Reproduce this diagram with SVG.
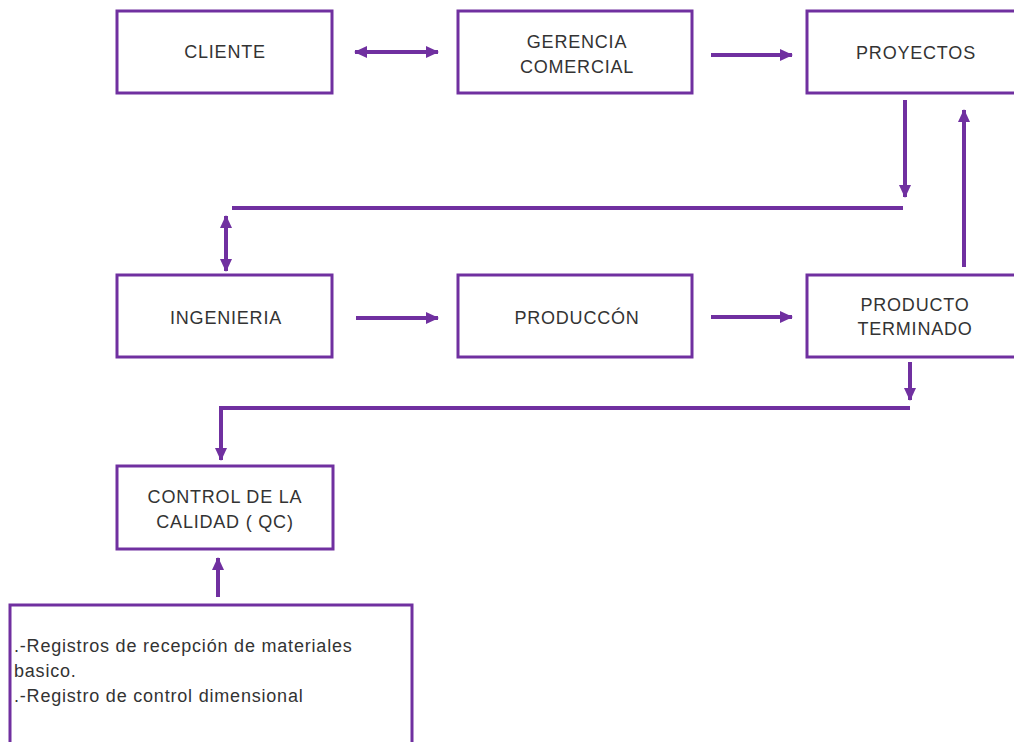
<svg xmlns="http://www.w3.org/2000/svg" width="1014" height="742" viewBox="0 0 1014 742">
<style>
.box{fill:#fff;stroke:#7030A0;stroke-width:3}
.t{font-family:"Liberation Sans",Arial,sans-serif;font-size:18px;letter-spacing:0.8px;fill:#333;text-anchor:middle}
.tl{font-family:"Liberation Sans",Arial,sans-serif;font-size:18px;letter-spacing:0.8px;fill:#333}
.c{fill:none;stroke:#7030A0;stroke-width:4}
</style>
<defs>
<marker id="ah" markerUnits="userSpaceOnUse" markerWidth="14" markerHeight="14" refX="12" refY="7" orient="auto-start-reverse" viewBox="0 0 14 14">
<path d="M0,1 L13,7 L0,13 Z" fill="#7030A0"/>
</marker>
</defs>
<rect width="1014" height="742" fill="#fff"/>
<g id="cliente"><rect class="box" x="117" y="11" width="215" height="82"/><text class="t" x="225" y="58">CLIENTE</text></g>
<g id="gerencia"><rect class="box" x="458" y="11" width="234" height="82"/><text class="t" x="577" y="48">GERENCIA</text><text class="t" x="577" y="73">COMERCIAL</text></g>
<g id="proyectos"><rect class="box" x="807" y="11" width="220" height="82"/><text class="t" x="916" y="59">PROYECTOS</text></g>
<g id="ingenieria"><rect class="box" x="117" y="275" width="215" height="82"/><text class="t" x="226" y="324">INGENIERIA</text></g>
<g id="produccon"><rect class="box" x="458" y="275" width="234" height="82"/><text class="t" x="577" y="324">PRODUCCÓN</text></g>
<g id="producto"><rect class="box" x="807" y="275" width="220" height="82"/><text class="t" x="915" y="311">PRODUCTO</text><text class="t" x="915" y="335">TERMINADO</text></g>
<g id="control"><rect class="box" x="117" y="466" width="216" height="83"/><text class="t" x="225" y="503">CONTROL DE LA</text><text class="t" x="225" y="528">CALIDAD ( QC)</text></g>
<g id="registros"><rect class="box" x="10" y="605" width="402" height="150"/>
<text class="tl" x="14" y="652">.-Registros de recepción de materiales</text>
<text class="tl" x="14" y="677">basico.</text>
<text class="tl" x="14" y="702">.-Registro de control dimensional</text></g>
<g id="connectors">
<line class="c" x1="355" y1="52" x2="438" y2="52" marker-start="url(#ah)" marker-end="url(#ah)"/>
<line class="c" x1="711" y1="55" x2="792" y2="55" marker-end="url(#ah)"/>
<line class="c" x1="905" y1="100" x2="905" y2="197" marker-end="url(#ah)"/>
<line class="c" x1="232" y1="208" x2="903" y2="208"/>
<line class="c" x1="226" y1="216" x2="226" y2="271" marker-start="url(#ah)" marker-end="url(#ah)"/>
<line class="c" x1="964" y1="267" x2="964" y2="110" marker-end="url(#ah)"/>
<line class="c" x1="356" y1="318" x2="438" y2="318" marker-end="url(#ah)"/>
<line class="c" x1="711" y1="317" x2="792" y2="317" marker-end="url(#ah)"/>
<line class="c" x1="910" y1="362" x2="910" y2="400" marker-end="url(#ah)"/>
<path class="c" d="M910,408 H221 V460" marker-end="url(#ah)"/>
<line class="c" x1="218" y1="597" x2="218" y2="558" marker-end="url(#ah)"/>
</g>
</svg>
